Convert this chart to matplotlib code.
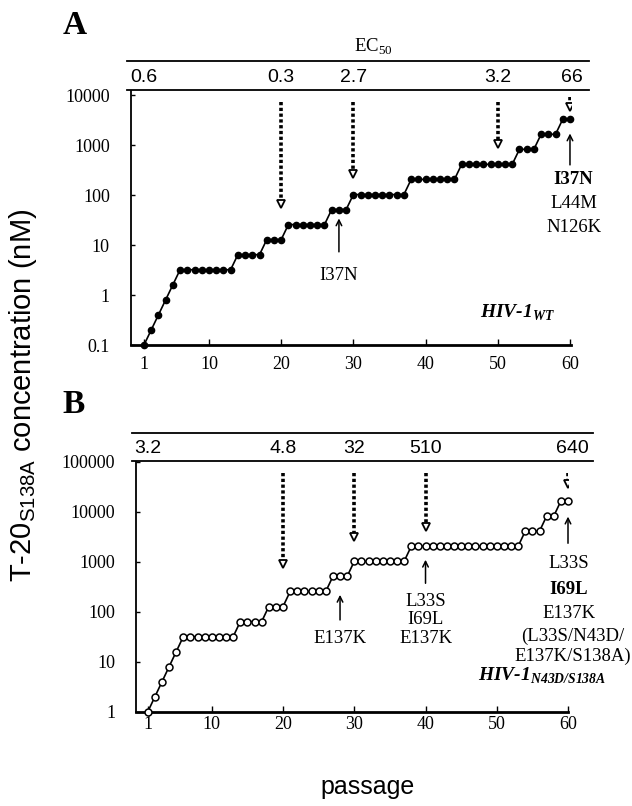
import numpy as np
import matplotlib
matplotlib.use('Agg')
import matplotlib.pyplot as plt
from matplotlib.lines import Line2D

plt.rcParams['font.family'] = ['Liberation Serif', 'DejaVu Serif']
plt.rcParams['mathtext.fontset'] = 'custom'
plt.rcParams['mathtext.rm'] = 'Liberation Serif'
plt.rcParams['mathtext.bf'] = 'Liberation Serif:italic:bold'
plt.rcParams['mathtext.sf'] = 'Liberation Sans'

# 数据：传代次数与浓度 (nM)
passage = np.arange(1, 61)
conc_wt = [0.1, 0.2, 0.4, 0.8, 1.6,
           3.2, 3.2, 3.2, 3.2, 3.2, 3.2, 3.2, 3.2,
           6.4, 6.4, 6.4, 6.4,
           12.8, 12.8, 12.8,
           25.6, 25.6, 25.6, 25.6, 25.6, 25.6,
           51.2, 51.2, 51.2,
           102, 102, 102, 102, 102, 102, 102, 102,
           205, 205, 205, 205, 205, 205, 205,
           410, 410, 410, 410, 410, 410, 410, 410,
           819, 819, 819,
           1638, 1638, 1638,
           3277, 3277]
conc_mut = [1, 2, 4, 8, 16,
            32, 32, 32, 32, 32, 32, 32, 32,
            64, 64, 64, 64,
            128, 128, 128,
            256, 256, 256, 256, 256, 256,
            512, 512, 512,
            1024, 1024, 1024, 1024, 1024, 1024, 1024, 1024,
            2048, 2048, 2048, 2048, 2048, 2048, 2048, 2048,
            2048, 2048, 2048, 2048, 2048, 2048, 2048, 2048,
            4096, 4096, 4096,
            8192, 8192,
            16384, 16384]

# EC50 表头
ec50_pos_wt = [1, 20, 30, 50, 60.3]
ec50_wt = ['0.6', '0.3', '2.7', '3.2', '66']
ec50_pos_mut = [1, 20, 30, 40, 60.6]
ec50_mut = ['3.2', '4.8', '32', '510', '640']

# 虚线箭头 (传代, 起点, 终点)
dot_x_wt = [20, 30, 50, 60]
dot_top_wt = [7400, 7400, 7400, 9300]
dot_tip_wt = [60, 240, 950, 5200]
dot_x_mut = [20, 30, 40, 60]
dot_top_mut = [60000, 60000, 60000, 60000]
dot_tip_mut = [800, 2750, 4500, 31600]

# 突变箭头 (传代, 尾, 头)
mut_x_wt = [28, 60]
mut_tail_wt = [7.3, 400]
mut_head_wt = [34, 1700]
mut_x_mut = [28, 40, 60]
mut_tail_mut = [69, 373, 2350]
mut_head_mut = [219, 1100, 8000]

fig = plt.figure(figsize=(6.32, 8.06), dpi=100)


def fx(px):
    return px / 632


def fy(py):
    return 1 - py / 806


def dotted_arrows(ax, xs, tops, tips):
    for x, t, b in zip(xs, tops, tips):
        ax.plot([x, x], [t, b * 1.25], color='k', lw=2.6, ls=(0, (0.9, 0.7)),
                solid_capstyle='butt', dash_capstyle='butt')
        ax.plot([x], [b * 1.12], marker='v', ms=6, mfc='white', mec='k', mew=1.3)


def solid_arrows(ax, xs, tails, heads):
    for x, t, h in zip(xs, tails, heads):
        ax.annotate('', xy=(x, h), xytext=(x, t),
                    arrowprops=dict(arrowstyle='->', lw=1.1, color='k',
                                    mutation_scale=10, shrinkA=0, shrinkB=0))


def style_axes(ax, pad_x):
    ax.set_yscale('log')
    for s in ['top', 'right']:
        ax.spines[s].set_visible(False)
    ax.spines['left'].set_linewidth(1.3)
    ax.spines['bottom'].set_linewidth(2.0)
    ax.set_xticks([1, 10, 20, 30, 40, 50, 60])
    ax.set_xticklabels(['1', '10', '20', '30', '40', '50', '60'])
    ax.minorticks_off()
    ax.tick_params(axis='x', direction='in', length=4, width=1, pad=pad_x, labelsize=13)
    ax.tick_params(axis='y', direction='in', length=3, width=1, pad=15, labelsize=13)


# ---------- A ----------
axA = fig.add_axes([fx(130.7), fy(345), 440 / 632, 254 / 806])
axA.plot(passage, conc_wt, color='k', lw=1.2, marker='o', ms=4.5,
         mfc='k', mec='k', clip_on=False, zorder=3)
axA.set_xlim(-0.84, 60.1)
axA.set_ylim(0.1, 10 ** 4.08)
style_axes(axA, 8)
axA.set_yticks([0.1, 1, 10, 100, 1000, 10000])
axA.set_yticklabels(['0.1', '1', '10', '100', '1000', '10000'])
axA.minorticks_off()

dotted_arrows(axA, dot_x_wt, dot_top_wt, dot_tip_wt)
solid_arrows(axA, mut_x_wt, mut_tail_wt, mut_head_wt)

axA.text(28, 2.5, 'I37N', ha='center', va='center', fontsize=13.5)
axA.text(60.5, 200, 'I37N', ha='center', va='center', fontsize=13.5,
         fontweight='bold')
axA.text(60.5, 68, 'L44M', ha='center', va='center', fontsize=13.5)
axA.text(60.5, 22, 'N126K', ha='center', va='center', fontsize=13.5)
axA.text(47.6, 0.44, r'HIV-1$_{\mathbf{WT}}$', ha='left', va='center',
         fontsize=14, fontweight='bold', style='italic')

trA = axA.get_xaxis_transform()
for x, lab in zip(ec50_pos_wt, ec50_wt):
    axA.text(x, 1 + 14 / 254, lab, transform=trA, ha='center', va='center',
             fontsize=14, family='Liberation Sans', clip_on=False)

for y in [61, 89.5]:
    fig.add_artist(Line2D([fx(127), fx(589)], [fy(y), fy(y)], color='k', lw=1.3))
fig.text(fx(373), fy(47), r'EC$_{50}$', ha='center', va='center', fontsize=13.5)
fig.text(fx(63), fy(34), 'A', ha='left', va='baseline', fontsize=24, fontweight='bold')

# ---------- B ----------
axB = fig.add_axes([fx(136), fy(712), 432 / 632, 250.3 / 806])
axB.plot(passage, conc_mut, color='k', lw=1.2, marker='o', ms=5,
         mfc='white', mec='k', mew=1.1, clip_on=False, zorder=3)
axB.set_xlim(-0.64, 60)
axB.set_ylim(1, 100000)
style_axes(axB, 3)
axB.set_yticks([1, 10, 100, 1000, 10000, 100000])
axB.set_yticklabels(['1', '10', '100', '1000', '10000', '100000'])
axB.minorticks_off()

dotted_arrows(axB, dot_x_mut, dot_top_mut, dot_tip_mut)
solid_arrows(axB, mut_x_mut, mut_tail_mut, mut_head_mut)

axB.text(28, 30, 'E137K', ha='center', va='center', fontsize=13.5)
axB.text(40, 160, 'L33S', ha='center', va='center', fontsize=13.5)
axB.text(40, 69, 'I69L', ha='center', va='center', fontsize=13.5)
axB.text(40, 30, 'E137K', ha='center', va='center', fontsize=13.5)
axB.text(60.1, 940, 'L33S', ha='center', va='center', fontsize=13.5)
axB.text(60.1, 275, 'I69L', ha='center', va='center', fontsize=13.5, fontweight='bold')
axB.text(60.1, 94, 'E137K', ha='center', va='center', fontsize=13.5)
axB.text(60.6, 33, '(L33S/N43D/', ha='center', va='center', fontsize=13.5, clip_on=False)
axB.text(60.6, 13, 'E137K/S138A)', ha='center', va='center', fontsize=13.5, clip_on=False)
axB.text(47.4, 5.2, r'HIV-1$_{\mathbf{N43D/S138A}}$', ha='left', va='center',
         fontsize=14, fontweight='bold', style='italic')

trB = axB.get_xaxis_transform()
for x, lab in zip(ec50_pos_mut, ec50_mut):
    axB.text(x, 1 + 13 / 250.3, lab, transform=trB, ha='center', va='center',
             fontsize=14, family='Liberation Sans', clip_on=False)

for y in [433, 460.5]:
    fig.add_artist(Line2D([fx(131.7), fx(593)], [fy(y), fy(y)], color='k', lw=1.3))
fig.text(fx(62), fy(413), 'B', ha='left', va='baseline', fontsize=24, fontweight='bold')

# 坐标轴标题
fig.text(fx(23), fy(395), r'T-20$_{\mathsf{S138A}}$ concentration (nM)', rotation=90,
         ha='center', va='center', fontsize=21, family='Liberation Sans')
fig.text(fx(368), fy(787), 'passage', ha='center', va='center', fontsize=18,
         family='Liberation Sans')

fig.savefig('out.png', dpi=100)
